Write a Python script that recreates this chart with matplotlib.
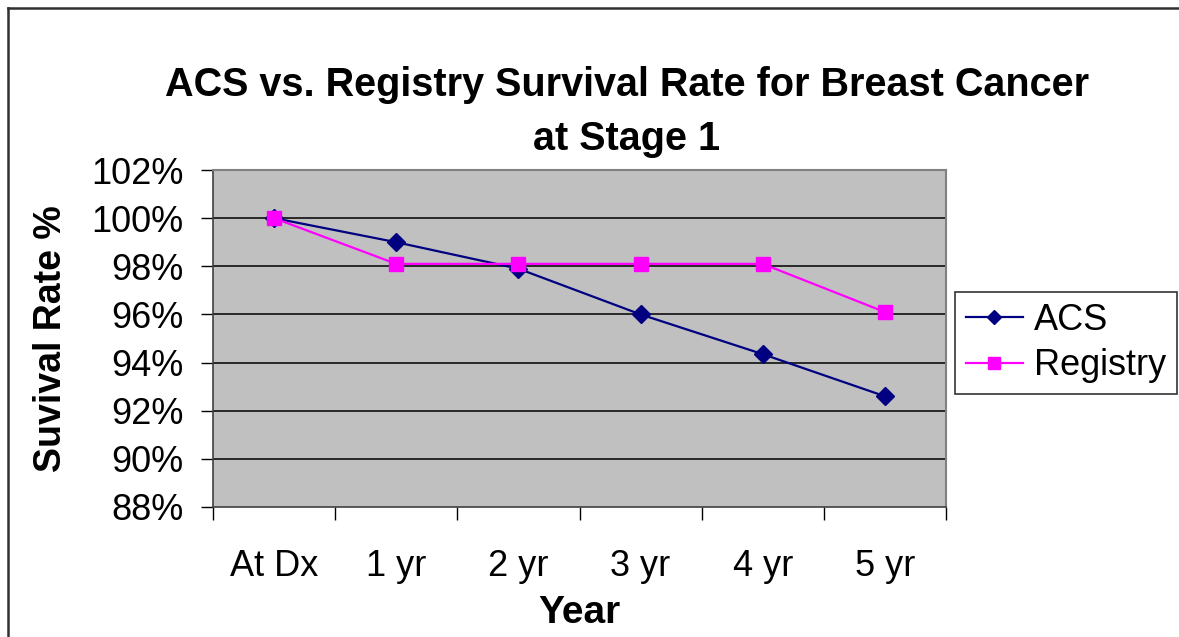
import matplotlib
matplotlib.use('Agg')

import matplotlib.pyplot as plt
from matplotlib.lines import Line2D
from matplotlib.ticker import FuncFormatter, FixedLocator

plt.rcParams['font.family'] = ['Liberation Sans', 'DejaVu Sans']

# ─── Data ───
years = ['At Dx', '1 yr', '2 yr', '3 yr', '4 yr', '5 yr']
acs = [100.0, 99.0, 97.9, 96.0, 94.35, 92.6]
registry = [100.0, 98.1, 98.1, 98.1, 98.1, 96.1]
y_ticks = [88, 90, 92, 94, 96, 98, 100, 102]

W, H = 1179, 637
fig = plt.figure(figsize=(W / 100, H / 100), dpi=100)
ax = fig.add_axes([213 / W, 1 - 507 / H, (946 - 213) / W, (507 - 170) / H])
ax.set_facecolor('#C0C0C0')

x = list(range(len(years)))
ax.plot(x, acs, color='#000080', linewidth=1.6, marker='D', markersize=9,
        label='ACS', zorder=3)
ax.plot(x, registry, color='#FF00FF', linewidth=1.6, marker='s', markersize=10,
        label='Registry', zorder=4)

ax.set_xlim(-0.5, len(years) - 0.5)
ax.set_ylim(88, 102)

# y axis
ax.set_yticks(y_ticks)
ax.yaxis.set_major_formatter(FuncFormatter(lambda v, p: f'{v:.0f}%'))
ax.tick_params(axis='y', direction='out', length=9, width=1, pad=12,
               labelsize=26, color='black')
for yt in y_ticks[1:-1]:
    ax.axhline(yt, color='black', linewidth=1.1, zorder=1)

# x axis: tick marks between categories, labels at category centres
ax.xaxis.set_major_locator(FixedLocator([i - 0.5 for i in range(len(years) + 1)]))
ax.xaxis.set_minor_locator(FixedLocator(x))
ax.set_xticklabels([], minor=False)
ax.set_xticklabels(years, minor=True)
ax.tick_params(axis='x', which='major', direction='out', length=9, width=1,
               color='black')
ax.tick_params(axis='x', which='minor', length=0, pad=30, labelsize=26)

for side in ['top', 'right']:
    ax.spines[side].set_color('#808080')
    ax.spines[side].set_linewidth(1.5)
for side in ['left', 'bottom']:
    ax.spines[side].set_color('#404040')
    ax.spines[side].set_linewidth(1.2)

ax.set_ylabel('Suvival Rate %', fontsize=27, fontweight='bold', labelpad=16)
ax.set_xlabel('Year', fontsize=28, fontweight='bold', labelpad=8)

fig.text(627 / W, 1 - 112 / H,
         'ACS vs. Registry Survival Rate for Breast Cancer\nat Stage 1',
         ha='center', va='center', fontsize=28.5, fontweight='bold',
         linespacing=1.5)

leg = fig.legend(loc='center', bbox_to_anchor=(1066 / W, 1 - 343 / H),
                 fontsize=26, frameon=True, fancybox=False, edgecolor='black',
                 handlelength=1.6, handletextpad=0.3, borderpad=0.3,
                 labelspacing=0.3, markerscale=0.8)
leg.get_frame().set_linewidth(1.2)

# outer chart border (only top and left are visible in the crop)
fig.add_artist(Line2D([8 / W, 8 / W], [0, 1 - 8 / H], color='#303030',
                      linewidth=1.8, transform=fig.transFigure))
fig.add_artist(Line2D([8 / W, 1], [1 - 8 / H, 1 - 8 / H], color='#303030',
                      linewidth=1.8, transform=fig.transFigure))

fig.savefig('out.png', dpi=100)
